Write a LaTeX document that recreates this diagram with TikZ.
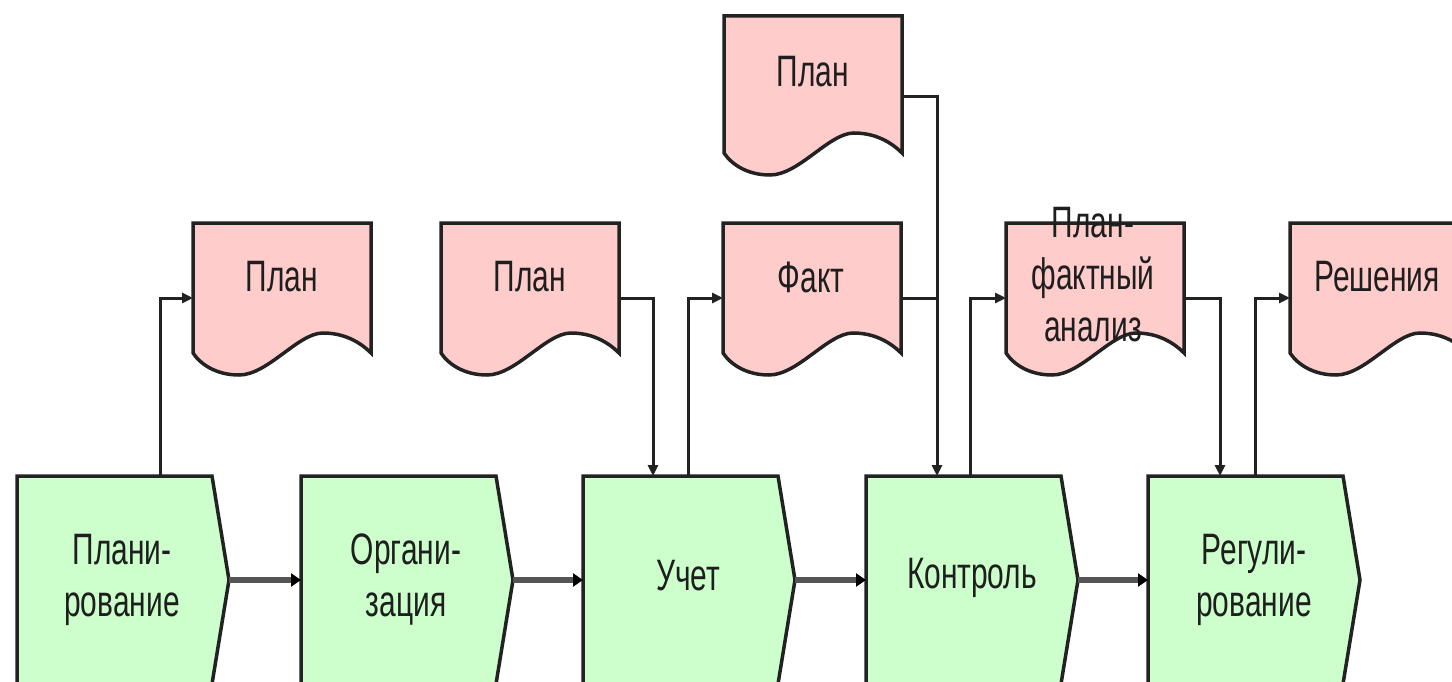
\documentclass[tikz,border=0pt]{standalone}
\usepackage{fontspec}
\setmainfont{Liberation Sans}[FakeStretch=0.68]
\usetikzlibrary{calc,arrows.meta}
\definecolor{docpink}{RGB}{255,204,204}
\definecolor{boxgreen}{RGB}{204,255,204}
\definecolor{edge}{RGB}{34,34,34}
\definecolor{flowgray}{RGB}{85,85,85}
\definecolor{ink}{RGB}{30,30,30}
\begin{document}
\begin{tikzpicture}[x=1pt,y=-1pt,
  area/.style={inner sep=0pt, outer sep=0pt, anchor=north west},
  boxshape/.style={fill=boxgreen, draw=edge, line width=3.5pt, line join=miter},
  docshape/.style={fill=docpink, draw=edge, line width=3.5pt, line join=miter},
  txt/.style={font=\fontsize{44}{52}\selectfont, text=ink, align=center, inner sep=0pt},
  conn/.style={draw=edge, line width=3pt},
  connarr/.style={conn, -{Triangle[length=11pt,width=10pt]}},
  flow/.style={draw=flowgray, line width=6pt, -{Triangle[length=10pt,width=13pt,color=black]}},
]
\useasboundingbox (0,0) rectangle (1452,682);
\fill[white] (0,0) rectangle (1452,682);

% process boxes
\foreach \n/\L in {1/17,2/301,3/583,4/866,5/1148}{
  \node[area, minimum width=195pt, minimum height=208pt] (b\n) at (\L,476) {};
  \draw[boxshape] (b\n.north west) -- (b\n.north east) -- ($(b\n.east)+(17,0)$)
     -- (b\n.south east) -- (b\n.south west) -- cycle;
}

% documents
\foreach \d/\X/\Y/\H in {d0/724/16/137,d1/193/223/130,d2/441/223/130,d3/723/223/130,d4/1006/223/130,d5/1290/223/130}{
  \node[area, minimum width=178pt, minimum height=\H pt] (\d) at (\X,\Y) {};
  \begin{scope}[shift={(\d.south west)}]
    \draw[docshape] (0,0) -- (0,-\H) -- (178,-\H) -- (178,0)
      .. controls (166,-12) and (150,-20) .. (130,-20)
      .. controls (105,-20) and (75,22) .. (46,22)
      .. controls (24,22) and (8,12) .. (0,0) -- cycle;
  \end{scope}
}

% connectors
\draw[connarr] ($(b1.north west)+(143,0)$) |- ($(d1.west)+(0,10)$);
\draw[connarr] ($(d2.east)+(0,10)$) -| ($(b3.north west)+(70,0)$);
\draw[connarr] ($(b3.north west)+(105,0)$) |- ($(d3.west)+(0,10)$);
\draw[connarr] ($(d0.east)+(0,12)$) -| ($(b4.north west)+(71,0)$);
\draw[conn] ($(d3.east)+(0,10)$) -- ($(b4.north west |- d3.east)+(71,10)$);
\draw[connarr] ($(b4.north west)+(104,0)$) |- ($(d4.west)+(0,10)$);
\draw[connarr] ($(d4.east)+(0,10)$) -| ($(b5.north west)+(72,0)$);
\draw[connarr] ($(b5.north west)+(107,0)$) |- ($(d5.west)+(0,10)$);

% main flow
\foreach \a/\b in {1/2,2/3,3/4,4/5}{
  \draw[flow] ($(b\a.east)+(17,0)$) -- (b\b.west);
}

% texts
\node[txt] (t1) at (122,580) {Плани-\\рование};
\node[txt] (t2) at (406,580) {Органи-\\зация};
\node[txt] (t3) at (688,576) {Учет};
\node[txt] (t4) at (972,578) {Контроль};
\node[txt] (t5) at (1254,580) {Регули-\\рование};
\node[txt] (t0) at (813,72) {План};
\node[txt] (t6) at (282,277) {План};
\node[txt] (t7) at (530,277) {План};
\node[txt] (t8) at (811,277) {Факт};
\node[txt] (t9) at (1093,275) {План-\\фактный\\анализ};
\node[txt] (t10) at (1377,277) {Решения};
\end{tikzpicture}
\end{document}
